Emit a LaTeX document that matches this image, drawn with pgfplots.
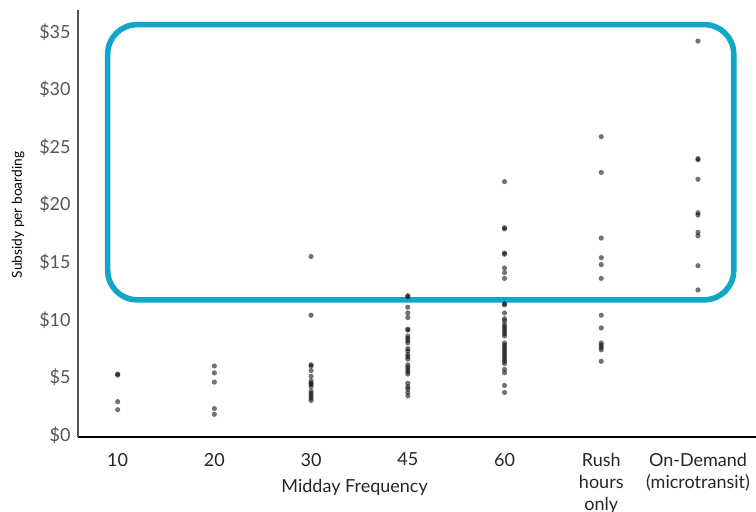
\documentclass[border=0pt]{standalone}
\usepackage{pgfplots}
\pgfplotsset{compat=1.18}
\usepackage{fontspec}
\setmainfont{Lato}
\definecolor{hl}{RGB}{18,167,199}
\definecolor{tickgray}{RGB}{85,85,85}
\begin{document}
\begin{tikzpicture}
\begin{axis}[
  scale only axis,
  width=508.5pt, height=320.25pt,
  xmin=-0.41, xmax=6.6,
  ymin=-0.17, ymax=36.9,
  axis x line*=bottom, axis y line*=left,
  x axis line style={black, line width=0.8pt, -},
  y axis line style={tickgray, line width=0.8pt, -},
  major tick length=0pt,
  xtick={0,1,2,3,4,5,6},
  xticklabels={10,20,30,45,60,{Rush\\hours\\only},{On-Demand\\(microtransit)}},
  xticklabel style={align=center, anchor=north, font=\fontsize{13.5}{16.5}\selectfont, text=black!85, yshift=-8.5pt},
  ytick={0,5,10,15,20,25,30,35},
  yticklabels={\$0,\$5,\$10,\$15,\$20,\$25,\$30,\$35},
  yticklabel style={font=\fontsize{13.5}{15}\selectfont, text=tickgray, xshift=-2pt},
  xlabel={Midday Frequency},
  xlabel style={at={(axis description cs:0.408,0)}, anchor=center, yshift=-37.5pt, font=\fontsize{13.5}{15}\selectfont, text=black!85},
  ylabel={Subsidy per boarding},
  ylabel style={at={(axis description cs:-0.0885,0.52)}, anchor=center, font=\fontsize{10.3}{12}\selectfont, text=black},
  clip=false,
]
\draw[hl, line width=4.2pt, rounded corners=22pt] (axis cs:-0.103,11.74) rectangle (axis cs:6.37,35.63);
\addplot[only marks, mark=*, mark size=1.95pt, mark options={fill=black, fill opacity=0.55, draw opacity=0}] table {
x y
0 5.3
0 5.2
0 2.9
0 2.2
1 6.0
1 5.4
1 4.6
1 2.3
1 1.8
2 15.5
2 10.4
2 6.1
2 6.0
2 5.6
2 5.1
2 4.7
2 4.5
2 4.4
2 4.2
2 3.8
2 3.6
2 3.4
2 3.2
2 3.0
3 12.1
3 12.0
3 11.1
3 10.6
3 10.2
3 9.2
3 9.1
3 8.6
3 8.4
3 8.2
3 8.0
3 7.5
3 7.3
3 7.0
3 6.8
3 6.6
3 6.1
3 5.9
3 5.7
3 5.5
3 5.3
3 4.5
3 4.2
3 4.0
3 3.7
3 3.4
4 22.0
4 18.0
4 17.9
4 15.8
4 15.7
4 14.5
4 14.1
4 13.6
4 11.4
4 11.3
4 10.6
4 10.1
4 9.9
4 9.6
4 9.4
4 9.2
4 9.0
4 8.8
4 8.6
4 8.0
4 7.8
4 7.6
4 7.4
4 7.2
4 7.0
4 6.8
4 6.6
4 6.4
4 6.2
4 5.7
4 5.4
4 4.3
4 3.7
5 25.9
5 22.8
5 17.1
5 15.4
5 14.8
5 13.6
5 10.4
5 9.3
5 8.0
5 7.8
5 7.6
5 7.4
5 6.4
6 34.2
6 24.0
6 23.9
6 22.2
6 19.3
6 19.1
6 17.6
6 17.3
6 14.7
6 12.6
};
\end{axis}
\pgfresetboundingbox
\path[use as bounding box] ([xshift=-58.5pt,yshift=-55.5pt]current axis.south west) rectangle ([yshift=7.5pt]current axis.north east);
\end{tikzpicture}
\end{document}
